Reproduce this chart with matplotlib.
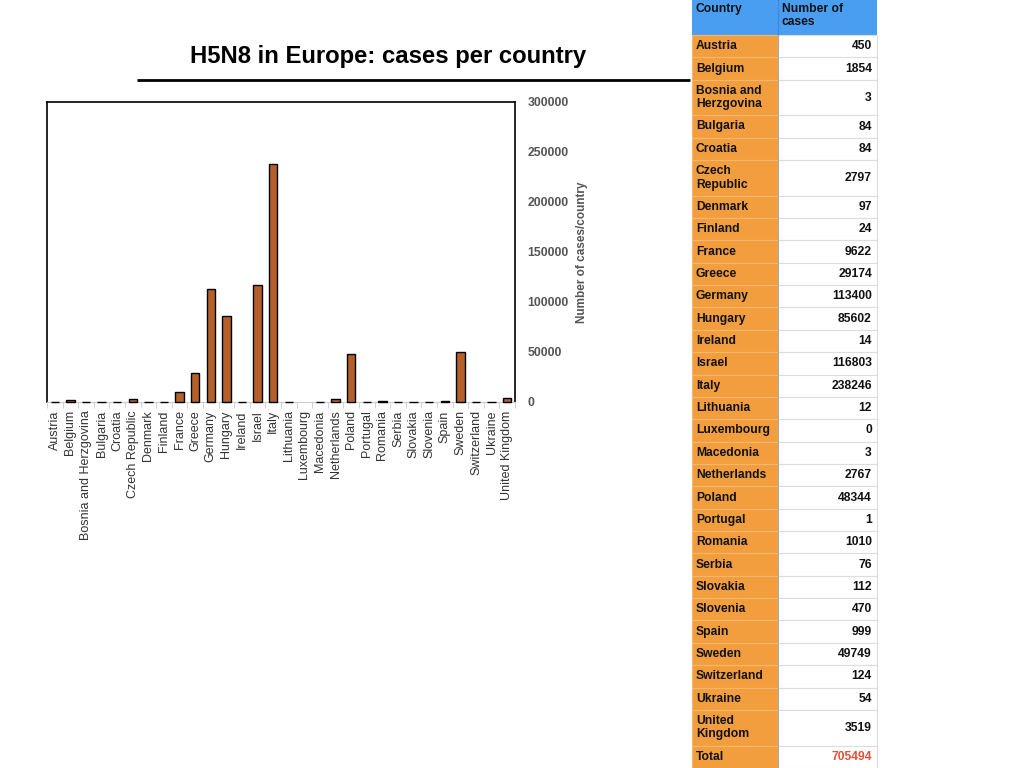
import numpy as np
import matplotlib
matplotlib.use("Agg")
import matplotlib.pyplot as plt
from matplotlib.patches import Rectangle
from matplotlib import font_manager

plt.rcParams['font.family'] = ['Liberation Sans', 'DejaVu Sans']

# bold Liberation Sans, avoiding the Narrow variant
bold_file = None
for f in font_manager.fontManager.ttflist:
    if (f.name == 'Liberation Sans' and f.weight in (700, 'bold')
            and f.style == 'normal' and 'Narrow' not in f.fname):
        bold_file = f.fname

# --- Data: H5N8 cases per country ---
countries = ['Austria', 'Belgium', 'Bosnia and Herzgovina', 'Bulgaria', 'Croatia',
             'Czech Republic', 'Denmark', 'Finland', 'France', 'Greece', 'Germany',
             'Hungary', 'Ireland', 'Israel', 'Italy', 'Lithuania', 'Luxembourg',
             'Macedonia', 'Netherlands', 'Poland', 'Portugal', 'Romania', 'Serbia',
             'Slovakia', 'Slovenia', 'Spain', 'Sweden', 'Switzerland', 'Ukraine',
             'United Kingdom']
cases = [450, 1854, 3, 84, 84, 2797, 97, 24, 9622, 29174, 113400, 85602, 14,
         116803, 238246, 12, 0, 3, 2767, 48344, 1, 1010, 76, 112, 470, 999,
         49749, 124, 54, 3519]
total = 705494
y_ticks = [0, 50000, 100000, 150000, 200000, 250000, 300000]

# names that wrap onto two lines in the table
wrapped = {'Bosnia and Herzgovina': 'Bosnia and\nHerzgovina',
           'Czech Republic': 'Czech\nRepublic',
           'United Kingdom': 'United\nKingdom'}


def bold(size):
    if bold_file:
        return dict(fontproperties=font_manager.FontProperties(fname=bold_file, size=size))
    return dict(fontsize=size, fontweight='bold')


W, H = 1024, 768
fig = plt.figure(figsize=(W / 100, H / 100), dpi=100)

# --- Bar chart ---
ax = fig.add_axes([47 / W, 1 - 402 / H, 468 / W, 300 / H])
x = np.arange(len(countries))
lw = [1 if v > 0 else 0 for v in cases]
ax.bar(x, cases, width=0.55, color='#B5602B', edgecolor='black', linewidth=lw,
       zorder=3, clip_on=False)
ax.set_xlim(-0.5, len(countries) - 0.5)
ax.set_ylim(0, 300000)
ax.set_xticks(x)
ax.set_xticklabels(countries, rotation=90, fontsize=9, color='#333333')
ax.set_xticks(np.arange(len(countries) + 1) - 0.5, minor=True)
ax.tick_params(axis='x', which='major', length=0, pad=6)
ax.tick_params(axis='x', which='minor', length=4, color='#cccccc')
ax.yaxis.tick_right()
ax.yaxis.set_label_position('right')
ax.set_yticks(y_ticks)
ax.set_yticklabels([str(v) for v in y_ticks], color='#555555', **bold(8.8))
ax.tick_params(axis='y', length=0, pad=9)
ax.set_ylabel('Number of cases/country', color='#555555', labelpad=5, **bold(8.5))
for s in ['left', 'top', 'right']:
    ax.spines[s].set_color('black')
    ax.spines[s].set_linewidth(1.2)
ax.spines['bottom'].set_color('#cccccc')

# --- Overlay for title and table (pixel coordinates) ---
ov = fig.add_axes([0, 0, 1, 1])
ov.set_xlim(0, W)
ov.set_ylim(H, 0)
ov.axis('off')

ov.text(388, 56, 'H5N8 in Europe: cases per country', ha='center', va='center',
        color='black', **bold(17.2))
ov.plot([137, 690], [80, 80], color='black', linewidth=2, solid_capstyle='butt')

# table
x0, x1, x2 = 692, 778, 877
header_h, row_h, row2_h = 35, 22.36, 35.6
ov.add_patch(Rectangle((x0, 0), x2 - x0, header_h, facecolor='#4A9EF2',
                       edgecolor='none'))
ov.plot([x1, x1], [0, header_h], color='#3f8ad6', linewidth=1)
ov.text(x0 + 4, 3, 'Country', ha='left', va='top', color='#111111', **bold(8.7))
ov.text(x1 + 4, 3, 'Number of\ncases', ha='left', va='top', color='#111111',
        linespacing=1.15, **bold(8.7))

rows = [(wrapped.get(c, c), str(v)) for c, v in zip(countries, cases)]
rows.append(('Total', str(total)))
y = header_h
for name, val in rows:
    h = row2_h if '\n' in name else row_h
    ov.add_patch(Rectangle((x0, y), x1 - x0, h, facecolor='#F29E3E',
                           edgecolor='#f5b66e', linewidth=0.8))
    ov.add_patch(Rectangle((x1, y), x2 - x1, h, facecolor='white',
                           edgecolor='#dddddd', linewidth=0.8))
    vcol = '#E0503A' if name == 'Total' else '#111111'
    ov.text(x0 + 4, y + h / 2, name, ha='left', va='center', color='#111111',
            linespacing=1.15, **bold(8.7))
    ov.text(x2 - 5, y + h / 2, val, ha='right', va='center', color=vcol, **bold(8.7))
    y += h
ov.plot([x1, x1], [header_h, H], color='#aaaaaa', linewidth=0.8)

fig.savefig('out.png', dpi=100)
